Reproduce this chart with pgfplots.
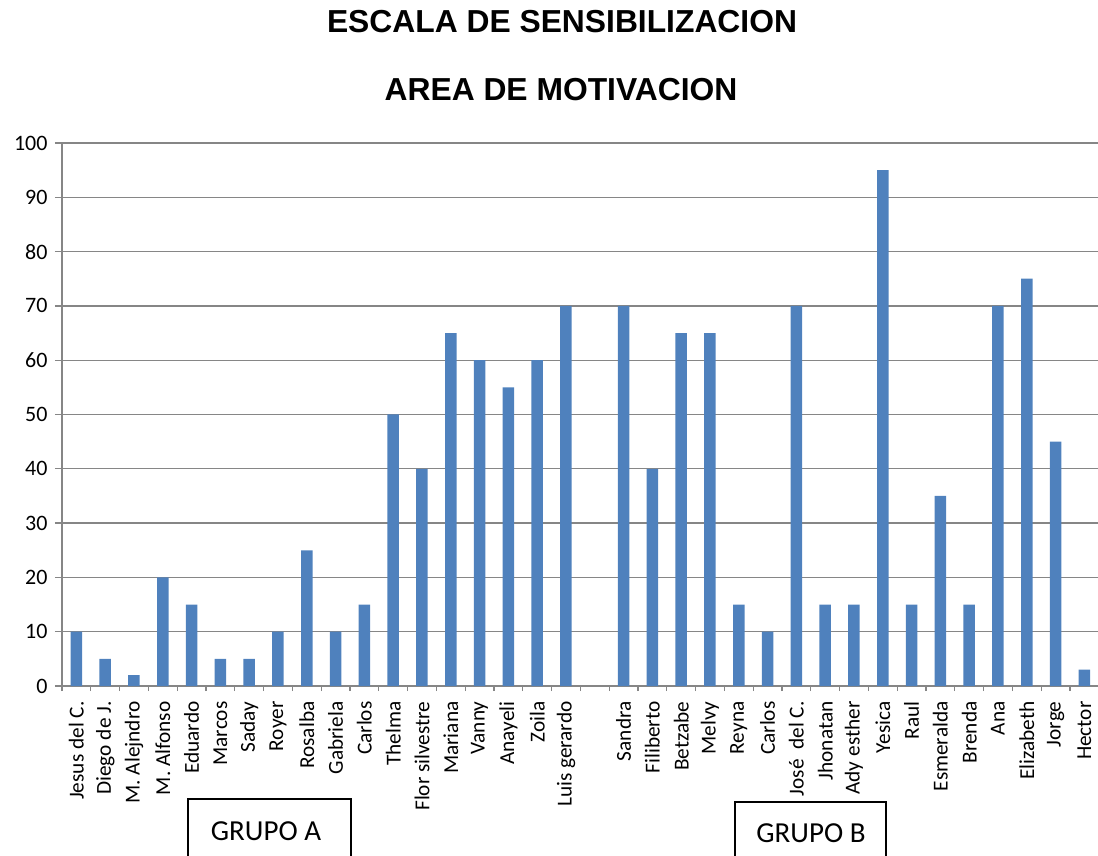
\documentclass[border=0pt]{standalone}
\usepackage{pgfplots}
\pgfplotsset{compat=1.18}
\usepackage{fontspec}
\setmainfont{Carlito}
\newfontfamily\titlefont{Liberation Sans}
\definecolor{barblue}{HTML}{4F81BD}
\definecolor{gridgray}{HTML}{868686}
\begin{document}
\begin{tikzpicture}
\useasboundingbox (0,0) rectangle (1098pt,855pt);
\begin{axis}[
  at={(62pt,169pt)}, anchor=south west,
  scale only axis, width=1036.8pt, height=543pt,
  xmin=-0.5, xmax=35.5, ymin=0, ymax=100,
  axis x line*=bottom, axis y line*=left,
  axis line style={gridgray, line width=1.3pt},
  ytick={0,10,...,100},
  ymajorgrids, major grid style={gridgray, line width=1.3pt},
  tick align=outside,
  major y tick style={gridgray, line width=1.3pt},
  major tick length=7pt,
  xtick={0,...,35},
  major x tick style={draw=none},
  minor xtick={-0.5,0.5,...,35.5},
  minor x tick style={gridgray, line width=1.3pt},
  minor tick length=5pt,
  xticklabels={Jesus del C.,Diego de J.,M. Alejndro,M. Alfonso,Eduardo,Marcos,Saday,Royer,Rosalba,Gabriela,Carlos,Thelma,Flor silvestre,Mariana,Vanny,Anayeli,Zoila,Luis gerardo,{},Sandra,Filiberto,Betzabe,Melvy,Reyna,Carlos,José\ \ del C.,Jhonatan,Ady esther,Yesica,Raul,Esmeralda,Brenda,Ana,Elizabeth,Jorge,Hector},
  xticklabel style={rotate=90, anchor=east, font=\fontsize{21.3}{25}\selectfont},
  xticklabel shift=5pt,
  yticklabel style={font=\fontsize{22}{26}\selectfont, xshift=-4pt},
  /pgf/number format/assume math mode=true,
]
\addplot[ybar, bar width=11.5pt, fill=barblue, draw=none] coordinates {
(0,10) (1,5) (2,2) (3,20) (4,15) (5,5) (6,5) (7,10) (8,25) (9,10) (10,15)
(11,50) (12,40) (13,65) (14,60) (15,55) (16,60) (17,70)
(19,70) (20,40) (21,65) (22,65) (23,15) (24,10) (25,70) (26,15) (27,15)
(28,95) (29,15) (30,35) (31,15) (32,70) (33,75) (34,45) (35,3)
};
\end{axis}
\node[font=\titlefont\bfseries\fontsize{31.8}{36}\selectfont] at (562pt,833pt) {ESCALA DE SENSIBILIZACION};
\node[font=\titlefont\bfseries\fontsize{31.8}{36}\selectfont] at (561pt,765pt) {AREA DE MOTIVACION};
\draw[line width=1.3pt] (188pt,-5pt) rectangle (351pt,56pt);
\node[font=\fontsize{29}{33}\selectfont] at (266pt,24pt) {GRUPO A};
\draw[line width=1.3pt] (735pt,-5pt) rectangle (886pt,53pt);
\node[font=\fontsize{29}{33}\selectfont] at (811pt,22pt) {GRUPO B};
\end{tikzpicture}
\end{document}
